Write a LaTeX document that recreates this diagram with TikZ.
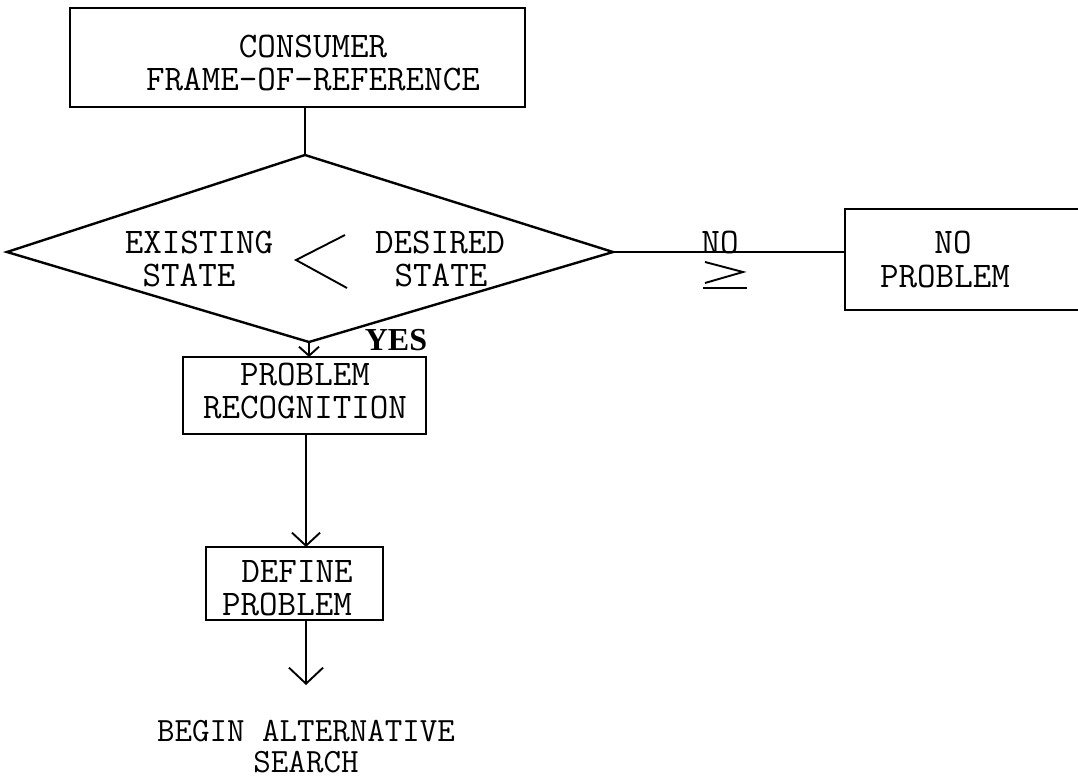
\documentclass[tikz,border=0pt]{standalone}
\usepackage{fontspec}
\setmainfont{Liberation Serif}
\usetikzlibrary{arrows.meta}
\begin{document}
\begin{tikzpicture}[x=1pt,y=-1pt,
  every node/.style={inner sep=0pt, outer sep=0pt},
  box/.style={draw, line width=1.9pt},
  lbl/.style={font=\fontsize{36}{36}\selectfont\ttfamily, align=center, anchor=base},
  blocklbl/.style={font=\fontsize{34}{31}\selectfont\ttfamily, align=center, anchor=center},
  yeslbl/.style={font=\fontsize{32}{32}\selectfont\bfseries},
  conn/.style={line width=1.9pt},
  barb/.style={-{Straight Barb[length=#1, width=2*#1+2pt, line width=1.9pt]}},
  barb/.default=10pt
]
\useasboundingbox (0,0) rectangle (1078,782);
\clip (0,0) rectangle (1078,782);

% boxes
\node[box, minimum width=455pt, minimum height=99pt] (cfr) at (297.5,57.5) {};
\node[box, minimum width=243pt, minimum height=77pt] (prec) at (304.5,395.5) {};
\node[box, minimum width=177pt, minimum height=73pt] (defp) at (294.5,583.5) {};
\node[box, minimum width=245pt, minimum height=101pt] (noprob) at (967.5,259.5) {};

% decision diamond
\coordinate (dtop) at (305,155);
\coordinate (dleft) at (7,252);
\coordinate (dright) at (613,252);
\coordinate (dbot) at (309,342);
\draw[line width=2.4pt, line join=miter] (dtop) -- (dright) -- (dbot) -- (dleft) -- cycle;

% texts
\node[lbl] (t1) at (313,57) {CONSUMER};
\node[lbl] (t2) at (313,90) {FRAME-OF-REFERENCE};
\node[lbl] (t3) at (199,253) {EXISTING};
\node[lbl] (t4) at (189,286) {STATE};
\node[lbl] (t5) at (440,253) {DESIRED};
\node[lbl] (t6) at (441,286) {STATE};
\node[lbl] (t7) at (953,253) {NO};
\node[lbl] (t8) at (945,287) {PROBLEM};
\node[lbl] (t9) at (305,385) {PROBLEM};
\node[lbl] (t10) at (305,418) {RECOGNITION};
\node[lbl] (t11) at (297,582) {DEFINE};
\node[lbl] (t12) at (287,615) {PROBLEM};
\node[blocklbl] (t13) at (306,747) {BEGIN ALTERNATIVE\\SEARCH};
\node[lbl] (tno) at (720,253) {NO};
\node[yeslbl] (tyes) at (396,340) {YES};

% less-than sign inside the diamond
\draw[line width=1.9pt] (345,235) -- (296,260) -- (347,288);

% greater-or-equal sign under the NO branch
\draw[line width=1.9pt] (705,262) -- (743,272) -- (705,283);
\draw[line width=1.9pt] (703,288) -- (747,288);

% connectors
\draw[conn] (cfr.south -| dtop) -- (dtop);
\draw[conn] (dright) -- (noprob.west |- dright);
\draw[conn, barb=9pt] (dbot) -- (prec.north -| dbot);
\draw[conn, barb=13pt] (prec.south -| 306,0) -- (defp.north -| 306,0);
\coordinate (end) at (306,685);
\draw[conn, barb=16pt] (defp.south -| end) -- (end);
\end{tikzpicture}
\end{document}
